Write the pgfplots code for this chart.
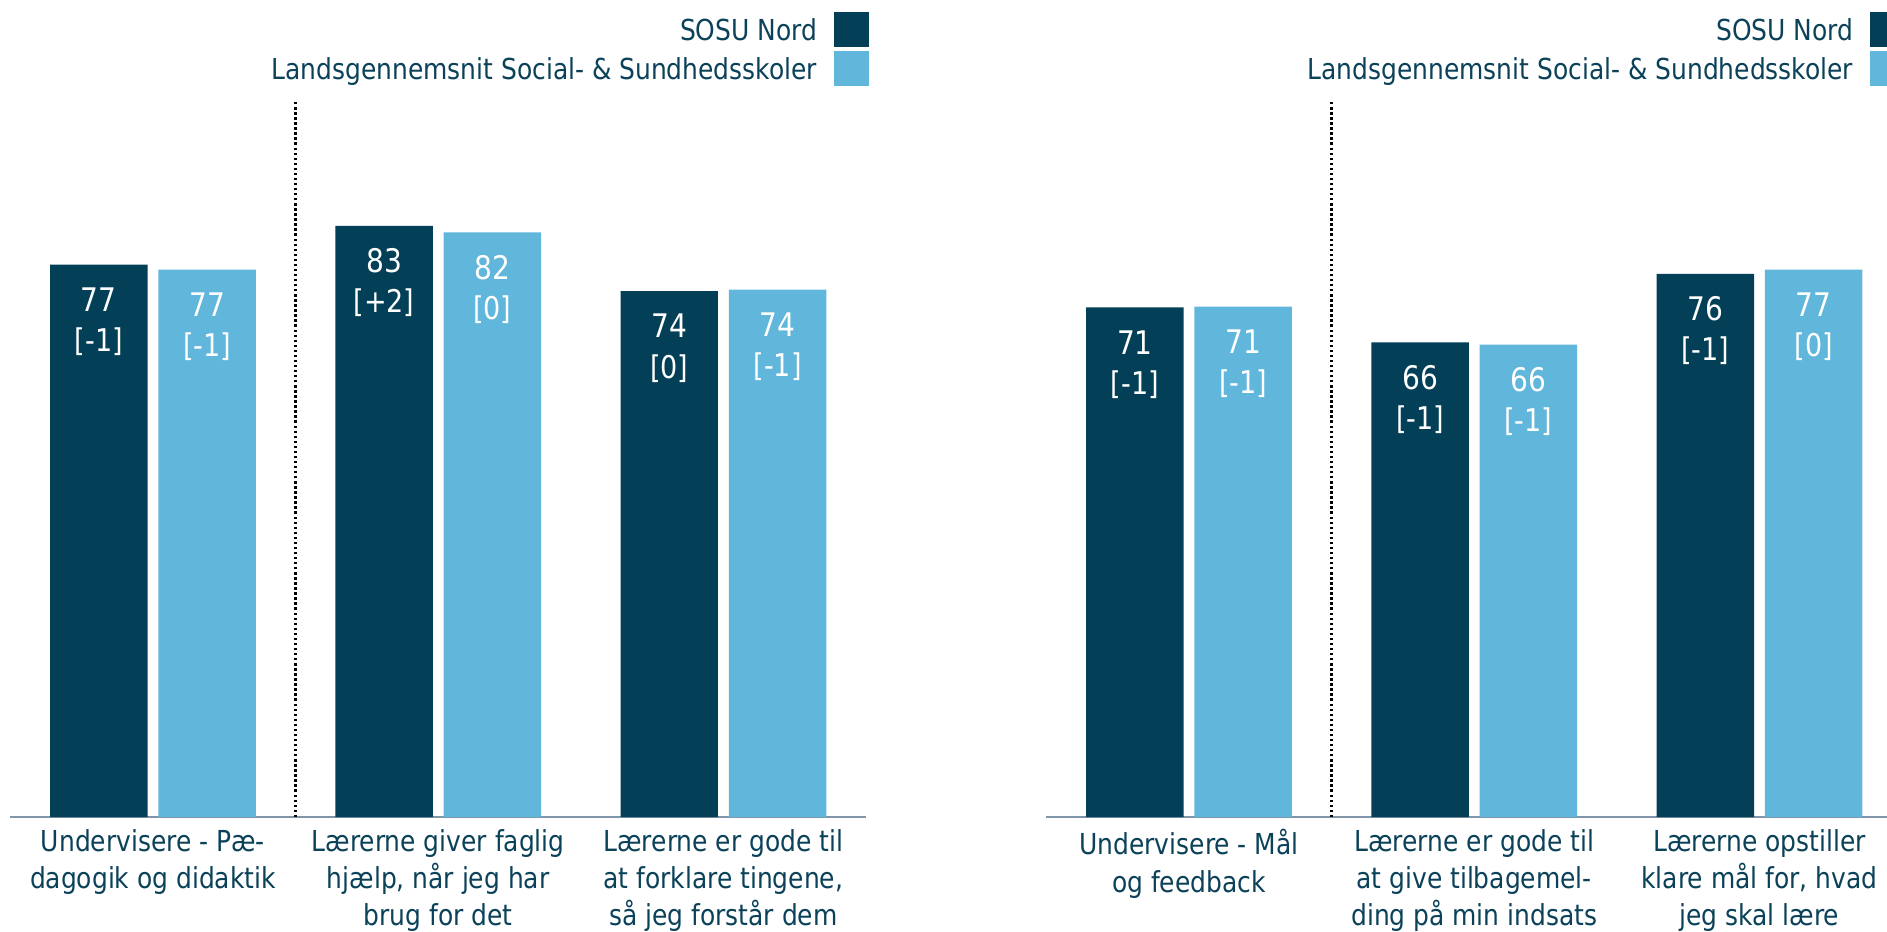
\documentclass[border=0pt]{standalone}
\usepackage{pgfplots}
\pgfplotsset{compat=1.18}
\usepackage{pgfplotstable}
\usepackage{fontspec}
\setmainfont{DejaVu Sans Condensed}[FakeStretch=0.96]
\definecolor{darkbar}{HTML}{043F58}
\definecolor{lightbar}{HTML}{60B6DB}
\definecolor{txt}{HTML}{0B4259}
\definecolor{axline}{HTML}{8095A8}

\pgfplotstableread{
x y num delta
0 77.3 77 {[-1]}
1 82.7 83 {[+2]}
2 73.6 74 {[0]}
}\Ldark
\pgfplotstableread{
x y num delta
0 76.6 77 {[-1]}
1 81.8 82 {[0]}
2 73.8 74 {[-1]}
}\Llight
\pgfplotstableread{
x y num delta
0 71.3 71 {[-1]}
1 66.4 66 {[-1]}
2 76.0 76 {[-1]}
}\Rdark
\pgfplotstableread{
x y num delta
0 71.4 71 {[-1]}
1 66.1 66 {[-1]}
2 76.6 77 {[0]}
}\Rlight

\pgfplotsset{
  panel/.style={
    scale only axis, width=711pt, height=594pt,
    xmin=-0.5, xmax=2.5, ymin=0, ymax=100,
    axis x line*=bottom, axis y line=none,
    x axis line style={draw=axline, line width=1.6pt},
    xtick={0,1,2}, major tick length=0pt,
    xticklabel style={align=center, font=\fontsize{24}{31}\selectfont, text=txt, inner sep=0pt, anchor=north, yshift=-10pt},
    legend style={at={(1,1)}, anchor=north east, xshift=2.4pt, yshift=75.3pt,
      draw=none, fill=none, inner sep=0pt, outer sep=0pt, row sep=3.7pt, column sep=12pt,
      font=\fontsize{24}{29}\selectfont, nodes={text=txt}},
    legend cell align=right, legend plot pos=right,
    clip=false,
  },
  barD/.style={ybar, bar width=81pt, bar shift=-45pt, fill=darkbar, draw=none,
    legend image code/.code={\fill[darkbar] (0pt,-13.8pt) rectangle (29pt,15.2pt);}},
  barL/.style={ybar, bar width=81pt, bar shift=45pt, fill=lightbar, draw=none,
    legend image code/.code={\fill[lightbar] (0pt,-13.8pt) rectangle (29pt,15.2pt);}},
  numlab/.style={point meta=explicit symbolic, nodes near coords,
    every node near coord/.append style={anchor=south, xshift=#1, yshift=-39pt, text=white, inner sep=0pt, text depth=0pt, font=\fontsize{27}{30}\selectfont}},
  dlab/.style={point meta=explicit symbolic, nodes near coords,
    every node near coord/.append style={anchor=south, xshift=#1, yshift=-72.5pt, text=white, inner sep=0pt, text depth=0pt, font=\fontsize{26}{30}\selectfont}},
  sep/.style={forget plot, black, line width=2pt, dash pattern=on 2pt off 2.2pt},
}

\begin{document}
\begin{tikzpicture}
\useasboundingbox (0pt,0pt) rectangle (1568pt,774pt);
\clip (0pt,0pt) rectangle (1568pt,774pt);

\begin{axis}[panel, at={(8.6pt,95pt)}, anchor=south west,
  xticklabels={{Undervisere - Pæ-\\dagogik og didaktik},
               {Lærerne giver faglig\\hjælp, når jeg har\\brug for det},
               {Lærerne er gode til\\at forklare tingene,\\så jeg forstår dem}}]
  \addplot[barD, numlab=-45pt] table[x=x, y=y, meta=num] {\Ldark};
  \addlegendentry{SOSU Nord}
  \addplot[barL, numlab=45pt] table[x=x, y=y, meta=num] {\Llight};
  \addlegendentry{Landsgennemsnit Social- \& Sundhedsskoler}
  \addplot[ybar, bar width=81pt, bar shift=-45pt, draw=none, fill=none, forget plot, dlab=-45pt] table[x=x, y=y, meta=delta] {\Ldark};
  \addplot[ybar, bar width=81pt, bar shift=45pt, draw=none, fill=none, forget plot, dlab=45pt] table[x=x, y=y, meta=delta] {\Llight};
  \addplot[sep] coordinates {(0.5,0) (0.5,100)};
\end{axis}

\begin{axis}[panel, at={(869.5pt,95pt)}, anchor=south west,
  xticklabels={{Undervisere - Mål\\og feedback},
               {Lærerne er gode til\\at give tilbagemel-\\ding på min indsats},
               {Lærerne opstiller\\klare mål for, hvad\\jeg skal lære}}]
  \addplot[barD, numlab=-45pt] table[x=x, y=y, meta=num] {\Rdark};
  \addlegendentry{SOSU Nord}
  \addplot[barL, numlab=45pt] table[x=x, y=y, meta=num] {\Rlight};
  \addlegendentry{Landsgennemsnit Social- \& Sundhedsskoler}
  \addplot[ybar, bar width=81pt, bar shift=-45pt, draw=none, fill=none, forget plot, dlab=-45pt] table[x=x, y=y, meta=delta] {\Rdark};
  \addplot[ybar, bar width=81pt, bar shift=45pt, draw=none, fill=none, forget plot, dlab=45pt] table[x=x, y=y, meta=delta] {\Rlight};
  \addplot[sep] coordinates {(0.5,0) (0.5,100)};
\end{axis}
\end{tikzpicture}
\end{document}
